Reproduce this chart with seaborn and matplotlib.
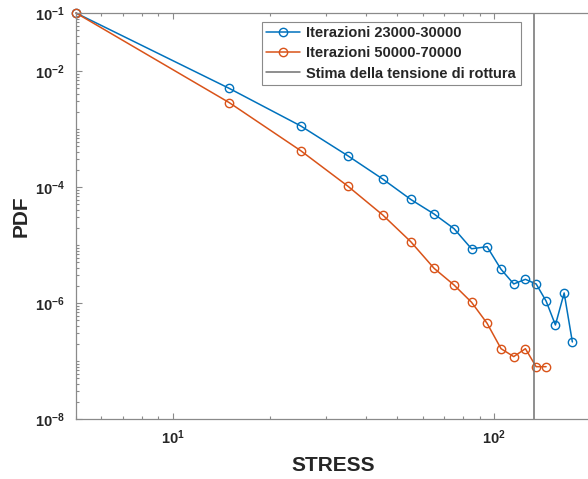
import matplotlib
matplotlib.use("Agg")
import matplotlib.pyplot as plt
import seaborn as sns
import pandas as pd
from matplotlib.ticker import FixedLocator, FixedFormatter, LogLocator, NullFormatter

# ---- data ----
stress_a = [5, 15, 25, 35, 45, 55, 65, 75, 85, 95, 105, 115, 125, 135, 145, 155, 165, 175]
pdf_a = [1.0e-1, 5.0e-3, 1.13e-3, 3.47e-4, 1.37e-4, 6.1e-5, 3.42e-5, 1.91e-5, 8.6e-6,
         9.35e-6, 3.81e-6, 2.13e-6, 2.56e-6, 2.13e-6, 1.08e-6, 4.18e-7, 1.49e-6, 2.13e-7]
stress_b = [5, 15, 25, 35, 45, 55, 65, 75, 85, 95, 105, 115, 125, 135, 145]
pdf_b = [1.0e-1, 2.84e-3, 4.23e-4, 1.04e-4, 3.29e-5, 1.14e-5, 3.96e-6, 2.04e-6, 1.03e-6,
         4.47e-7, 1.63e-7, 1.19e-7, 1.63e-7, 7.98e-8, 7.98e-8]
rottura = 133
labels = ["Iterazioni 23000-30000", "Iterazioni 50000-70000", "Stima della tensione di rottura"]
yticks = [1e-8, 1e-6, 1e-4, 1e-2, 1e-1]
ytick_labels = ["$10^{-8}$", "$10^{-6}$", "$10^{-4}$", "$10^{-2}$", "$10^{-1}$"]
xticks = [10, 100]
xtick_labels = ["$10^{1}$", "$10^{2}$"]

sns.set_style("white")
plt.rcParams["font.family"] = ["Liberation Sans", "DejaVu Sans"]
plt.rcParams["font.weight"] = "bold"
plt.rcParams["mathtext.fontset"] = "custom"
plt.rcParams["mathtext.rm"] = "Liberation Sans:bold"
plt.rcParams["mathtext.it"] = "Liberation Sans:bold"
plt.rcParams["mathtext.bf"] = "Liberation Sans:bold"
plt.rcParams["mathtext.sf"] = "Liberation Sans:bold"

blue = "#0072BD"
orange = "#D95319"
gray = "#8a8a8a"

df_a = pd.DataFrame({"stress": stress_a, "pdf": pdf_a})
df_b = pd.DataFrame({"stress": stress_b, "pdf": pdf_b})

fig = plt.figure(figsize=(5.88, 4.79), dpi=100)
ax = fig.add_axes([76 / 588, 1 - 419 / 479, 515 / 588, 406 / 479])

handles = []
for df, col, lab in [(df_a, blue, labels[0]), (df_b, orange, labels[1])]:
    sns.lineplot(data=df, x="stress", y="pdf", ax=ax, color=col, marker="o",
                 markerfacecolor="none", markeredgecolor=col, markersize=6,
                 markeredgewidth=1.0, linewidth=1.1, label=lab, sort=False,
                 errorbar=None, clip_on=False)
    handles.append(ax.lines[-1])
vl = ax.axvline(rottura, color="#707070", linewidth=1.1, label=labels[2])
handles.append(vl)

ax.set_xscale("log")
ax.set_yscale("log")
ax.set_xlim(5, 200)
ax.set_ylim(1e-8, 1e-1)

ax.yaxis.set_major_locator(FixedLocator(yticks))
ax.yaxis.set_major_formatter(FixedFormatter(ytick_labels))
ax.yaxis.set_minor_locator(LogLocator(base=10, subs=range(1, 10), numticks=50))
ax.yaxis.set_minor_formatter(NullFormatter())
ax.xaxis.set_major_locator(FixedLocator(xticks))
ax.xaxis.set_major_formatter(FixedFormatter(xtick_labels))
ax.xaxis.set_minor_locator(LogLocator(base=10, subs=range(1, 10), numticks=50))
ax.xaxis.set_minor_formatter(NullFormatter())

ax.tick_params(which="both", direction="in", top=True, bottom=True, left=True,
               right=False, color=gray, width=0.8)
ax.tick_params(which="major", length=4)
ax.tick_params(which="minor", length=2.5)
ax.tick_params(axis="y", which="major", pad=8, labelsize=10.5)
ax.tick_params(axis="x", which="major", pad=7, labelsize=10.5)

for s in ax.spines.values():
    s.set_color(gray)
    s.set_linewidth(0.9)

ax.set_xlabel("STRESS", fontsize=15, fontweight="bold", labelpad=6)
ax.set_ylabel("PDF", fontsize=15, fontweight="bold", labelpad=3)

leg = ax.legend(handles=handles, labels=labels, loc="upper left",
                bbox_to_anchor=(0.361, 0.978), borderaxespad=0, fontsize=10.5,
                frameon=True, fancybox=False, framealpha=1, edgecolor=gray,
                handlelength=2.3, handletextpad=0.45, labelspacing=0.42, borderpad=0.3)
leg.get_frame().set_linewidth(0.8)
for t in leg.get_texts():
    t.set_fontweight("bold")

fig.savefig("out.png", dpi=100)
